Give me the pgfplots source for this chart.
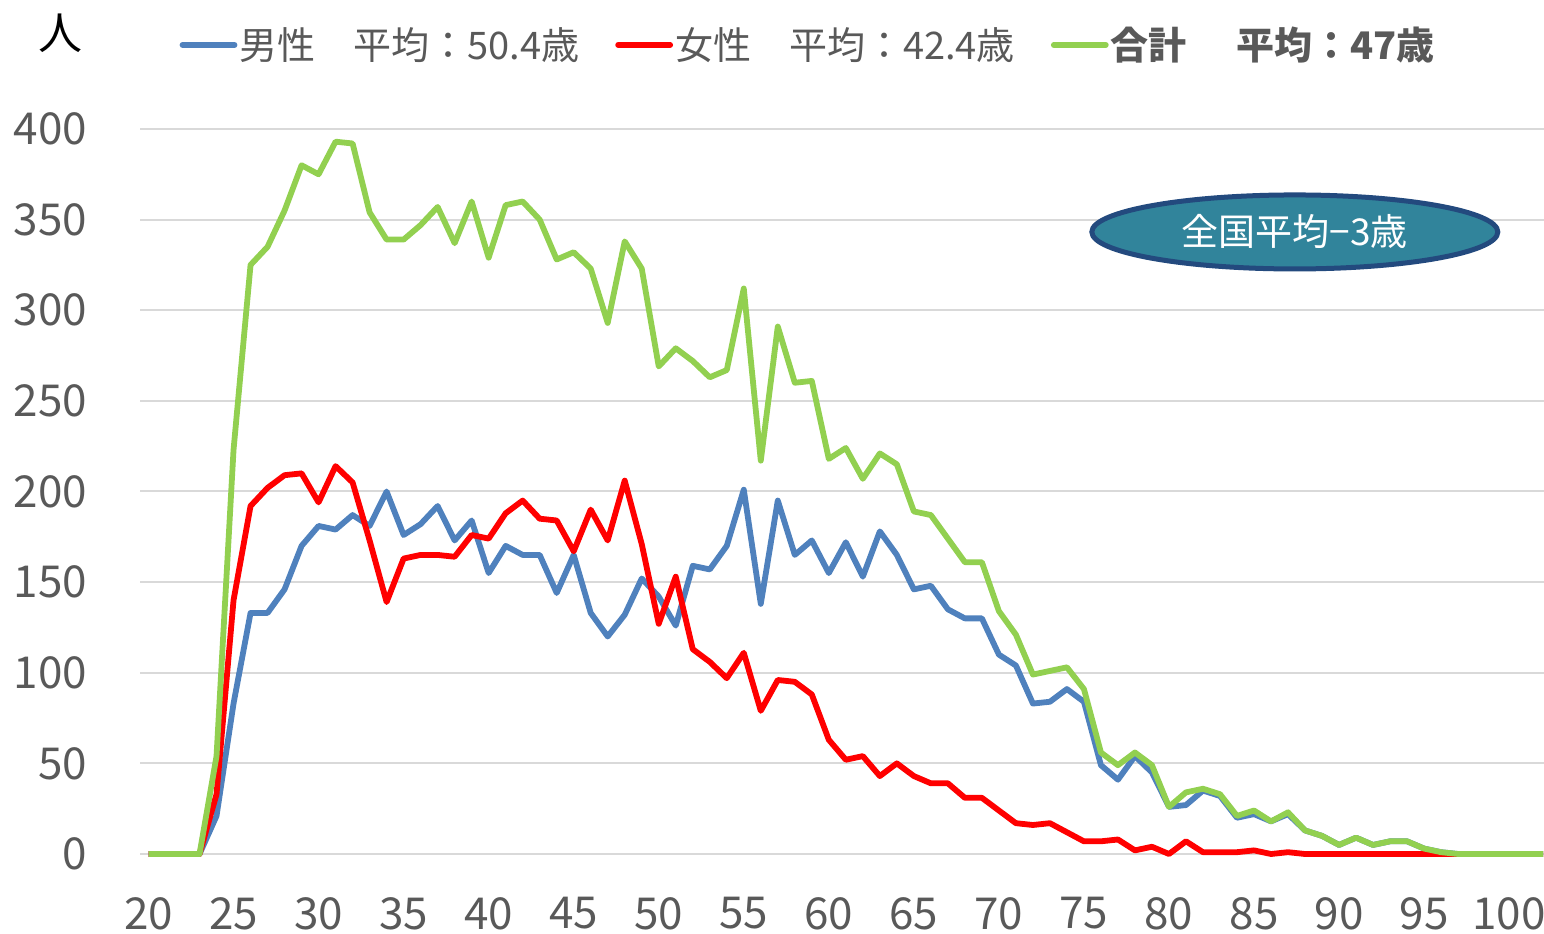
\documentclass[border=0pt]{standalone}
\usepackage{fontspec}
\setmainfont{Noto Sans CJK JP}
\usepackage{pgfplots}
\usepackage{pgfplotstable}
\pgfplotsset{compat=1.18}
\usetikzlibrary{shapes.geometric}
\definecolor{maleblue}{HTML}{4F81BD}
\definecolor{femalered}{HTML}{FF0000}
\definecolor{totalgreen}{HTML}{92D050}
\definecolor{gridgray}{HTML}{D9D9D9}
\definecolor{labelgray}{HTML}{595959}
\definecolor{ovalfill}{HTML}{31849B}
\definecolor{ovaledge}{HTML}{234A7E}

% age, male, female, total
\pgfplotstableread{
age m f t
20 0 0 0
21 0 0 0
22 0 0 0
23 0 0 0
24 21 33 54
25 83 140 223
26 133 192 325
27 133 202 335
28 146 209 355
29 170 210 380
30 181 194 375
31 179 214 393
32 187 205 392
33 181 173 354
34 200 139 339
35 176 163 339
36 182 165 347
37 192 165 357
38 173 164 337
39 184 176 360
40 155 174 329
41 170 188 358
42 165 195 360
43 165 185 350
44 144 184 328
45 165 167 332
46 133 190 323
47 120 173 293
48 132 206 338
49 152 171 323
50 142 127 269
51 126 153 279
52 159 113 272
53 157 106 263
54 170 97 267
55 201 111 312
56 138 79 217
57 195 96 291
58 165 95 260
59 173 88 261
60 155 63 218
61 172 52 224
62 153 54 207
63 178 43 221
64 165 50 215
65 146 43 189
66 148 39 187
67 135 39 174
68 130 31 161
69 130 31 161
70 110 24 134
71 104 17 121
72 83 16 99
73 84 17 101
74 91 12 103
75 84 7 91
76 49 7 56
77 41 8 49
78 54 2 56
79 45 4 49
80 26 0 26
81 27 7 34
82 35 1 36
83 32 1 33
84 20 1 21
85 22 2 24
86 18 0 18
87 22 1 23
88 13 0 13
89 10 0 10
90 5 0 5
91 9 0 9
92 5 0 5
93 7 0 7
94 7 0 7
95 3 0 3
96 1 0 1
97 0 0 0
98 0 0 0
99 0 0 0
100 0 0 0
101 0 0 0
102 0 0 0
}\agedata

\begin{document}
\begin{tikzpicture}
\clip (0,0) rectangle (772pt,466.5pt);
\path[use as bounding box] (0,0) rectangle (772pt,466.5pt);
\begin{axis}[
  at={(70pt,39.5pt)}, anchor=south west,
  width=702pt, height=362.5pt, scale only axis,
  xmin=19.5, xmax=102.05, ymin=0, ymax=400,
  xtick={20,25,...,100}, ytick={0,50,...,400},
  axis line style={draw=none}, tick style={draw=none},
  ymajorgrids, grid style={gridgray, line width=1pt},
  clip=false,
  ticklabel style={font=\fontsize{22}{22}\selectfont, text=labelgray},
  /pgf/number format/assume math mode=true,
  yticklabel style={anchor=east, xshift=-23pt},
  xticklabel style={anchor=north, inner sep=0pt, yshift=-21.5pt},
  legend columns=3,
  legend style={at={(0.4758,1.116)}, anchor=center, draw=none, fill=none,
    font=\fontsize{19}{19}\selectfont, text=labelgray,
    nodes={inner sep=1pt},
    /tikz/every even column/.append style={column sep=17pt}},
  legend image code/.code={\draw[#1, line width=2.9pt, line cap=round] (0pt,0pt) -- (26pt,0pt);},
]
\addplot[maleblue, line width=2.9pt, line join=round] table[x=age, y=m] {\agedata};
\addlegendentry{男性\hspace{1em}平均：50.4歳}
\addplot[femalered, line width=2.9pt, line join=round] table[x=age, y=f] {\agedata};
\addlegendentry{女性\hspace{1em}平均：42.4歳}
\addplot[totalgreen, line width=2.9pt, line join=round] table[x=age, y=t] {\agedata};
\addlegendentry{\bfseries 合計\hspace{1.3em}平均：47歳}
\node[ellipse, draw=ovaledge, fill=ovalfill, line width=2.5pt,
  minimum width=203pt, minimum height=37pt, inner sep=0pt,
  text=white, font=\fontsize{18.5}{18.5}\selectfont]
  at (axis cs:87.4,343.2) {全国平均−3歳};
\end{axis}
\node[font=\fontsize{22}{22}\selectfont, text=black] at (30.5pt,450pt) {人};
\end{tikzpicture}
\end{document}
